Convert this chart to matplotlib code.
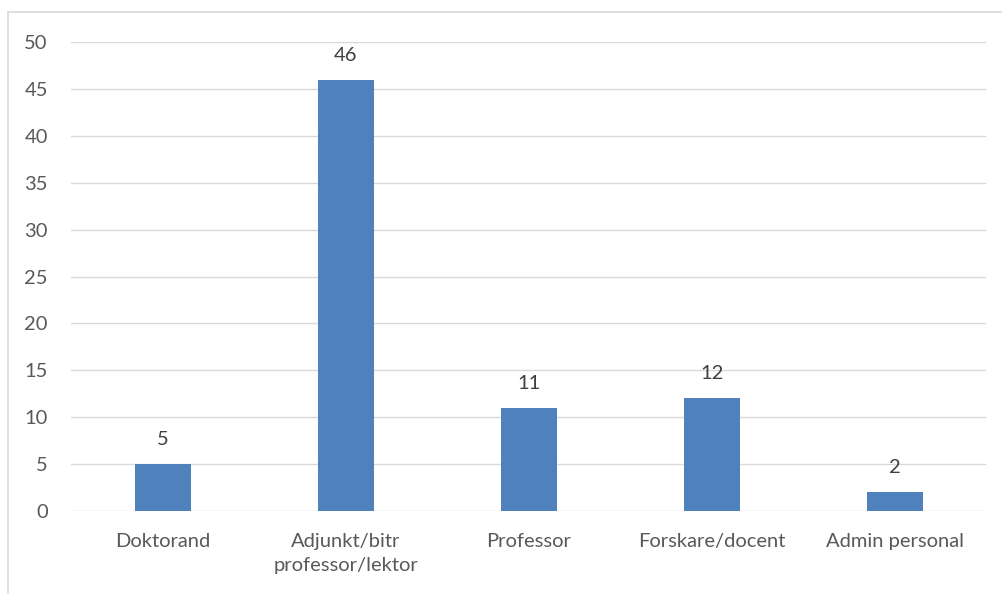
import matplotlib
matplotlib.use("Agg")
from matplotlib import pyplot as plt
from matplotlib.lines import Line2D

categories = ["Doktorand", "Adjunkt/bitr\nprofessor/lektor", "Professor",
              "Forskare/docent", "Admin personal"]
values = [5, 46, 11, 12, 2]
yticks = [0, 5, 10, 15, 20, 25, 30, 35, 40, 45, 50]

W, H = 1003, 594
plt.rcParams['font.family'] = ['Lato', 'DejaVu Sans']
fig = plt.figure(figsize=(W / 100, H / 100), dpi=100)

# chart border (only left and top edges fall inside the picture)
fig.add_artist(Line2D([8 / W, 8 / W], [0, 1 - 12 / H], color="#D9D9D9", lw=1.2))
fig.add_artist(Line2D([8 / W, 1], [1 - 12 / H, 1 - 12 / H], color="#D9D9D9", lw=1.2))

ax = fig.add_axes([71.5 / W, 1 - 511 / H, 915 / W, 469 / H])
x = range(len(categories))
bars = ax.bar(x, values, width=0.31, color="#4F81BD", zorder=3)

for b, v in zip(bars, values):
    ax.text(b.get_x() + b.get_width() / 2, v + 1.7, str(v), ha="center",
            va="bottom", fontsize=14.5, color="#404040")

ax.set_xlim(-0.5, len(categories) - 0.5)
ax.set_ylim(0, 50)
ax.set_yticks(yticks)
ax.set_xticks(list(x))
ax.set_xticklabels(categories, fontsize=14.5, color="#595959", linespacing=1.5)
ax.tick_params(axis="y", labelsize=14.5, labelcolor="#595959", length=0, pad=17)
ax.tick_params(axis="x", length=0, pad=16)
ax.grid(axis="y", color="#D9D9D9", lw=1.0, zorder=0)
for s in ax.spines.values():
    s.set_visible(False)

fig.savefig("out.png", dpi=100)
